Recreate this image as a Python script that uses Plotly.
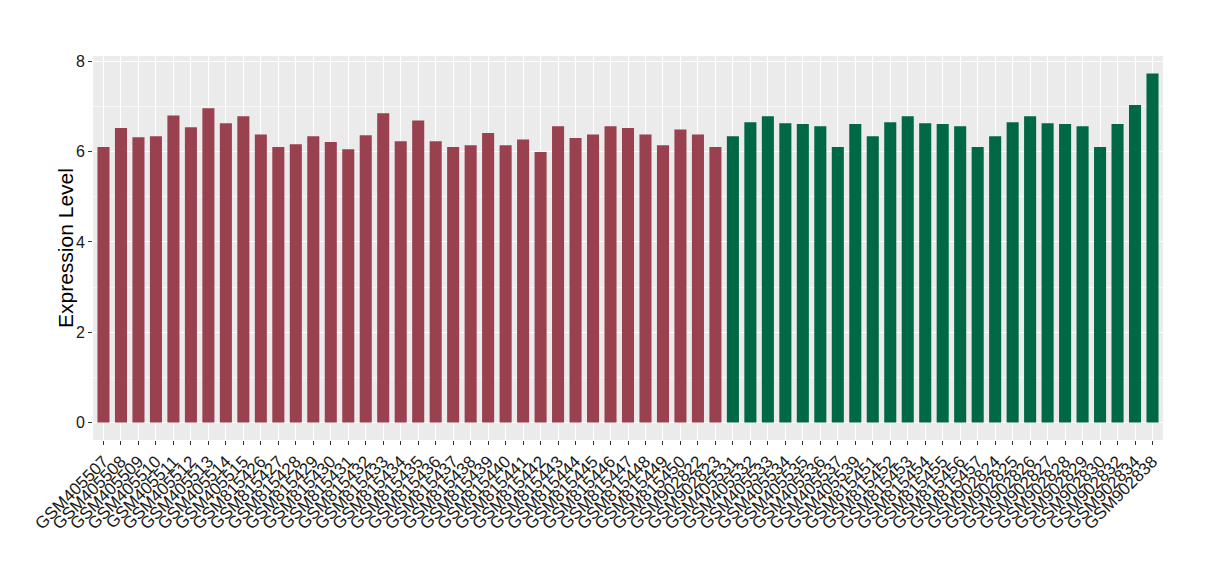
import plotly.graph_objects as go

samples_a = ["GSM405507", "GSM405508", "GSM405509", "GSM405510", "GSM405511", "GSM405512",
             "GSM405513", "GSM405514", "GSM405515", "GSM815426", "GSM815427", "GSM815428",
             "GSM815429", "GSM815430", "GSM815431", "GSM815432", "GSM815433", "GSM815434",
             "GSM815435", "GSM815436", "GSM815437", "GSM815438", "GSM815439", "GSM815440",
             "GSM815441", "GSM815442", "GSM815443", "GSM815444", "GSM815445", "GSM815446",
             "GSM815447", "GSM815448", "GSM815449", "GSM815450", "GSM902822", "GSM902823"]
values_a = [6.10, 6.52, 6.32, 6.34, 6.80, 6.54, 6.96, 6.63, 6.78, 6.38, 6.10, 6.16,
            6.34, 6.21, 6.05, 6.36, 6.85, 6.23, 6.69, 6.23, 6.10, 6.14, 6.41, 6.14,
            6.27, 5.99, 6.56, 6.30, 6.38, 6.56, 6.52, 6.38, 6.14, 6.49, 6.38, 6.10]

samples_b = ["GSM405531", "GSM405532", "GSM405533", "GSM405534", "GSM405535", "GSM405536",
             "GSM405537", "GSM405539", "GSM815451", "GSM815452", "GSM815453", "GSM815454",
             "GSM815455", "GSM815456", "GSM815457", "GSM902824", "GSM902825", "GSM902826",
             "GSM902827", "GSM902828", "GSM902829", "GSM902830", "GSM902832", "GSM902834",
             "GSM902838"]
values_b = [6.34, 6.65, 6.78, 6.63, 6.61, 6.56, 6.10, 6.61, 6.34, 6.65, 6.78, 6.63,
            6.61, 6.56, 6.10, 6.34, 6.65, 6.78, 6.63, 6.61, 6.56, 6.10, 6.61, 7.03,
            7.73]

color_a = "#9A4150"
color_b = "#006845"

samples = samples_a + samples_b
values = values_a + values_b
colors = [color_a] * len(samples_a) + [color_b] * len(samples_b)

fig = go.Figure(go.Bar(x=samples, y=values, marker=dict(color=colors, line=dict(width=0)),
                       showlegend=False))

ymax = max(values)
fig.update_layout(
    width=1204, height=564,
    margin=dict(l=85, r=49, t=48, b=132),
    paper_bgcolor="white", plot_bgcolor="#EBEBEB",
    bargap=0.31,
    font=dict(family="Liberation Sans, Arial, sans-serif", color="#1a1a1a"),
    xaxis=dict(type="category", categoryorder="array", categoryarray=samples,
               tickmode="array", tickvals=samples, ticktext=samples,
               range=[-0.6, len(samples) - 0.4], tickangle=-45, automargin=False,
               tickfont=dict(size=17, color="#1a1a1a"),
               showgrid=True, gridcolor="white", gridwidth=1.2,
               ticks="outside", ticklen=4, tickcolor="#333333", zeroline=False),
    yaxis=dict(range=[-0.05 * ymax, ymax * 1.05], tickvals=[0, 2, 4, 6, 8],
               tickfont=dict(size=16, color="#1a1a1a"), automargin=False,
               showgrid=True, gridcolor="white", gridwidth=1.2,
               minor=dict(tickvals=[1, 3, 5, 7], showgrid=True, gridcolor="#F7F7F7", gridwidth=0.6, ticks=""),
               ticks="outside", ticklen=4, tickcolor="#333333", zeroline=False),
    annotations=[dict(text="Expression Level", textangle=-90, xref="paper", yref="paper",
                      x=-28 / 1070, y=0.5, xanchor="center", yanchor="middle", showarrow=False,
                      font=dict(size=21, color="black"))],
)

fig.write_html("out.html")
